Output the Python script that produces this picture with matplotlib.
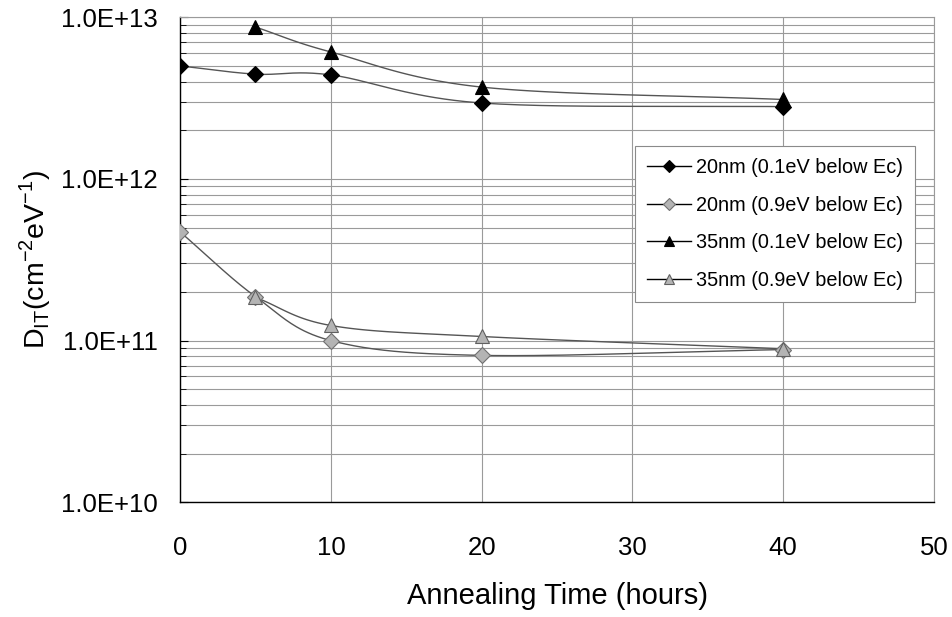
import matplotlib.pyplot as plt
import numpy as np
from matplotlib.ticker import LogLocator, FixedLocator, NullFormatter

plt.rcParams['font.family'] = ['Liberation Sans', 'DejaVu Sans']
plt.rcParams['mathtext.fontset'] = 'custom'
plt.rcParams['mathtext.rm'] = 'Liberation Sans'

# annealing time (hours)
t_20 = [0, 5, 10, 20, 40]
t_35 = [5, 10, 20, 40]

# interface trap density (cm^-2 eV^-1)
d20_shallow = [5.0e12, 4.45e12, 4.4e12, 2.95e12, 2.8e12]
d20_deep = [4.7e11, 1.87e11, 1.0e11, 8.1e10, 8.8e10]
d35_shallow = [8.7e12, 6.1e12, 3.7e12, 3.1e12]
d35_deep = [1.85e11, 1.24e11, 1.06e11, 8.9e10]

labels = ['20nm (0.1eV below Ec)', '20nm (0.9eV below Ec)',
          '35nm (0.1eV below Ec)', '35nm (0.9eV below Ec)']


def smooth(x, y, n=40):
    # Catmull-Rom through the points, in (x, log y) space, like Excel's smoothed lines
    x = np.asarray(x, float)
    ly = np.log10(y)
    px = np.concatenate([[2 * x[0] - x[1]], x, [2 * x[-1] - x[-2]]])
    py = np.concatenate([[2 * ly[0] - ly[1]], ly, [2 * ly[-1] - ly[-2]]])
    xs, ys = [], []
    s = np.linspace(0, 1, n)
    for i in range(1, len(px) - 2):
        p0, p1, p2, p3 = px[i - 1:i + 3]
        q0, q1, q2, q3 = py[i - 1:i + 3]
        c1x, c1y = p1 + (p2 - p0) / 6, q1 + (q2 - q0) / 6
        c2x, c2y = p2 - (p3 - p1) / 6, q2 - (q3 - q1) / 6
        bx = (1 - s) ** 3 * p1 + 3 * (1 - s) ** 2 * s * c1x + 3 * (1 - s) * s ** 2 * c2x + s ** 3 * p2
        by = (1 - s) ** 3 * q1 + 3 * (1 - s) ** 2 * s * c1y + 3 * (1 - s) * s ** 2 * c2y + s ** 3 * q2
        xs.append(bx)
        ys.append(by)
    return np.concatenate(xs), 10 ** np.concatenate(ys)


fig = plt.figure(figsize=(9.53, 6.17), dpi=100)
ax = fig.add_axes([0.189, 0.186, 0.791, 0.786])

series = [
    (t_20, d20_shallow, 'D', 'black', 'black', 8.5),
    (t_20, d20_deep, 'D', '#b4b4b4', '#707070', 8),
    (t_35, d35_shallow, '^', 'black', 'black', 10.5),
    (t_35, d35_deep, '^', '#b4b4b4', '#606060', 10.5),
]
handles = []
for (x, y, m, fc, ec, ms), lab in zip(series, labels):
    sx, sy = smooth(x, y)
    ax.plot(sx, sy, color='#555555', lw=1.0, zorder=3)
    ax.plot(x, y, linestyle='none', marker=m, ms=ms, mfc=fc, mec=ec, mew=0.8, zorder=4)
    h, = ax.plot([], [], color='black', lw=1.0, marker=m, ms=ms * 0.75, mfc=fc, mec=ec, mew=0.8)
    handles.append(h)

ax.set_yscale('log')
ax.set_ylim(1e10, 1e13)
ax.set_xlim(0, 50)
ax.xaxis.set_major_locator(FixedLocator([0, 10, 20, 30, 40, 50]))
ax.yaxis.set_minor_locator(LogLocator(base=10, subs=np.arange(2, 10), numticks=20))
ax.yaxis.set_minor_formatter(NullFormatter())
ax.set_yticks([1e10, 1e11, 1e12, 1e13])
ax.set_yticklabels(['1.0E+10', '1.0E+11', '1.0E+12', '1.0E+13'])

ax.grid(True, which='major', axis='x', color='#9a9a9a', lw=0.8)
ax.grid(True, which='both', axis='y', color='#9a9a9a', lw=0.8)
ax.set_axisbelow(True)

for s in ['top', 'right']:
    ax.spines[s].set_color('#9a9a9a')
    ax.spines[s].set_linewidth(0.8)
for s in ['left', 'bottom']:
    ax.spines[s].set_color('black')
    ax.spines[s].set_linewidth(1.0)

ax.tick_params(axis='y', which='major', direction='in', length=6, pad=16, labelsize=18.5)
ax.tick_params(axis='y', which='minor', direction='in', length=4)
ax.tick_params(axis='x', which='major', length=0, pad=24, labelsize=18.5)

ax.set_xlabel('Annealing Time (hours)', fontsize=21, labelpad=16)
ax.set_ylabel(r'D$_{\mathregular{IT}}$(cm$^{\mathregular{-2}}$eV$^{\mathregular{-1}}$)',
              fontsize=20.5, labelpad=6)

leg = ax.legend(handles, labels, loc='upper left', bbox_to_anchor=(0.604, 0.734),
                fontsize=14.3, frameon=True, fancybox=False, edgecolor='#8a8a8a',
                framealpha=1, handlelength=2.2, handletextpad=0.25,
                labelspacing=0.93, borderpad=0.6, borderaxespad=0)
leg.get_frame().set_linewidth(0.8)

plt.savefig('out.png', dpi=100)
